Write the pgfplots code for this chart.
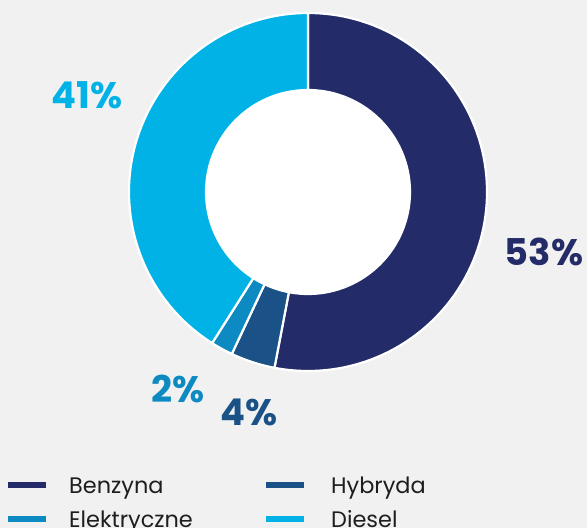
\documentclass[border=0pt]{standalone}
\usepackage{pgfplots}
\pgfplotsset{compat=1.18}
\usepackage{pgfplotstable}
\usepackage{fontspec}
\setmainfont{Poppins}
\definecolor{bg}{HTML}{F1F1F1}
\definecolor{cBenz}{HTML}{232C69}
\definecolor{cHyb}{HTML}{1A5288}
\definecolor{cElek}{HTML}{0E8AC2}
\definecolor{cDies}{HTML}{00B2E6}
\definecolor{txt}{HTML}{1E1E1E}
\pgfplotstableread{
name share color
Benzyna 53 cBenz
Hybryda 4 cHyb
Elektryczne 2 cElek
Diesel 41 cDies
}\shares
\begin{document}
\begin{tikzpicture}
\begin{axis}[
  width=587bp, height=528bp, scale only axis,
  xmin=0, xmax=587, ymin=0, ymax=528,
  hide axis, clip=false,
]
\fill[bg] (axis cs:0,0) rectangle (axis cs:587,528);
\def\cx{308}\def\cy{336}
\def\ro{179bp}\def\ri{102bp}
\pgfmathsetmacro{\start}{90}
\pgfplotsinvokeforeach{0,...,3}{
  \pgfplotstablegetelem{#1}{share}\of\shares
  \pgfmathsetmacro{\sweep}{3.6*\pgfplotsretval}
  \pgfplotstablegetelem{#1}{color}\of\shares
  \edef\col{\pgfplotsretval}
  \pgfmathsetmacro{\stop}{\start-\sweep}
  \edef\doit{\noexpand\fill[\col,draw=white,line width=2.2bp,line join=miter]
    ([shift={(\start:\ro)}]axis cs:\cx,\cy) arc[start angle=\start,end angle=\stop,radius=\ro]
    -- ([shift={(\stop:\ri)}]axis cs:\cx,\cy) arc[start angle=\stop,end angle=\start,radius=\ri] -- cycle;}
  \doit
  \global\let\start\stop
}
\fill[white] (axis cs:\cx,\cy) circle[radius=\ri];
\node[font=\fontsize{37}{40}\selectfont\bfseries,text=cBenz] at (axis cs:544,276) {53\%};
\node[font=\fontsize{37}{40}\selectfont\bfseries,text=cDies] at (axis cs:87,433) {41\%};
\node[font=\fontsize{37}{40}\selectfont\bfseries,text=cElek] at (axis cs:178,139) {2\%};
\node[font=\fontsize{37}{40}\selectfont\bfseries,text=cHyb] at (axis cs:249,116) {4\%};
% legend
\draw[cBenz,line width=6bp] (axis cs:8,43) -- (axis cs:46,43);
\node[anchor=base west,inner sep=0pt,text=txt,font=\fontsize{22.5}{25}\selectfont] at (axis cs:69,34) {Benzyna};
\draw[cHyb,line width=6bp] (axis cs:266,43) -- (axis cs:304,43);
\node[anchor=base west,inner sep=0pt,text=txt,font=\fontsize{22.5}{25}\selectfont] at (axis cs:331,34) {Hybryda};
\draw[cElek,line width=6bp] (axis cs:8,9) -- (axis cs:46,9);
\node[anchor=base west,inner sep=0pt,text=txt,font=\fontsize{22.5}{25}\selectfont] at (axis cs:69,1) {Elektryczne};
\draw[cDies,line width=6bp] (axis cs:266,9) -- (axis cs:304,9);
\node[anchor=base west,inner sep=0pt,text=txt,font=\fontsize{22.5}{25}\selectfont] at (axis cs:331,1) {Diesel};
\end{axis}
\pgfresetboundingbox
\useasboundingbox (0,0) rectangle (587bp,528bp);
\end{tikzpicture}
\end{document}
